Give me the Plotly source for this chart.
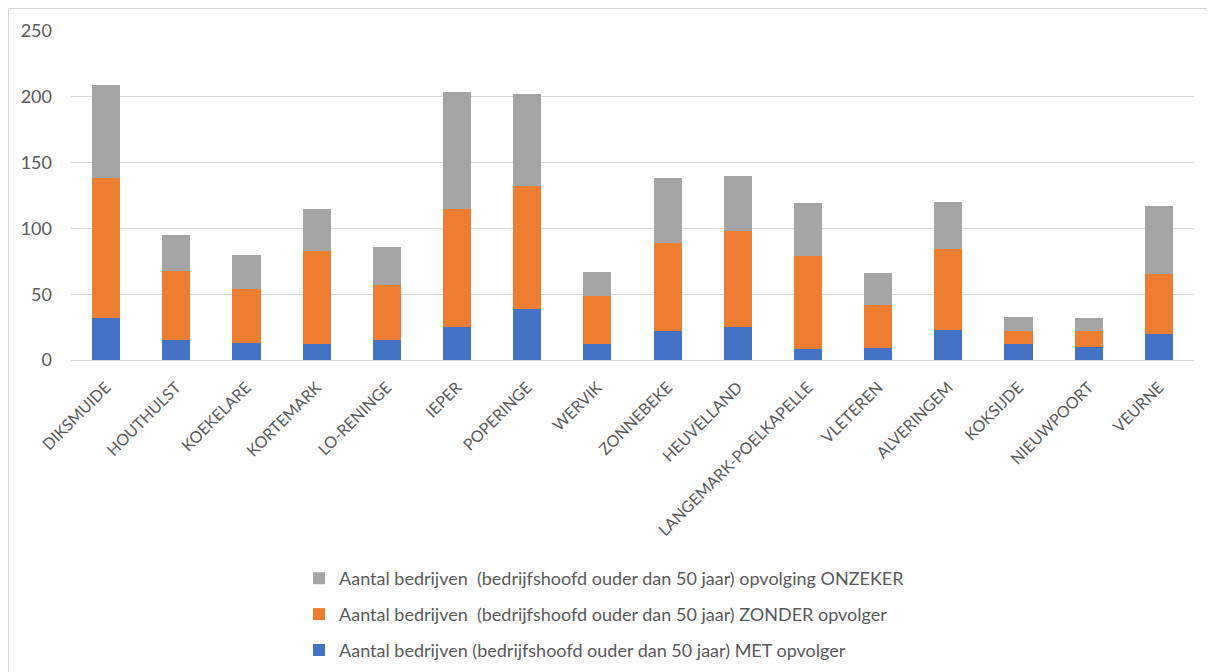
import plotly.graph_objects as go

gemeenten = ["DIKSMUIDE", "HOUTHULST", "KOEKELARE", "KORTEMARK", "LO-RENINGE", "IEPER",
             "POPERINGE", "WERVIK", "ZONNEBEKE", "HEUVELLAND", "LANGEMARK-POELKAPELLE",
             "VLETEREN", "ALVERINGEM", "KOKSIJDE", "NIEUWPOORT", "VEURNE"]
met_opvolger = [32, 15, 13, 12, 15, 25, 39, 12, 22, 25, 8, 9, 23, 12, 10, 20]
zonder_opvolger = [106, 53, 41, 71, 42, 90, 93, 37, 67, 73, 71, 33, 61, 10, 12, 45]
onzeker = [71, 27, 26, 32, 29, 89, 70, 18, 49, 42, 40, 24, 36, 11, 10, 52]

names = [
    "Aantal bedrijven (bedrijfshoofd ouder dan 50 jaar) MET opvolger",
    "Aantal bedrijven \u00a0(bedrijfshoofd ouder dan 50 jaar) ZONDER opvolger",
    "Aantal bedrijven \u00a0(bedrijfshoofd ouder dan 50 jaar) opvolging ONZEKER",
]
colors = ["#4472C4", "#ED7D31", "#A5A5A5"]
ranks = [3, 2, 1]

fig = go.Figure()
for i, (vals, nm, col) in enumerate(zip([met_opvolger, zonder_opvolger, onzeker], names, colors)):
    fig.add_trace(go.Bar(x=gemeenten, y=vals, name=nm, marker_color=col,
                         marker_line_width=0, legendgroup=str(i), legendrank=ranks[i]))

W, H = 1207, 664
L, R, T, B = 63, 21, 23, 312
pw = W - L - R
ph = H - T - B

font_family = "Lato, 'Open Sans', sans-serif"
fig.update_layout(
    barmode="stack",
    bargap=0.6,
    width=W, height=H,
    margin=dict(l=L, r=R, t=T, b=B, autoexpand=False),
    plot_bgcolor="white", paper_bgcolor="white",
    font=dict(family=font_family, color="#595959", size=18),
    xaxis=dict(tickangle=-45, tickfont=dict(size=16, color="#595959"), showline=False,
               ticks="", showgrid=False, ticklabelstandoff=14),
    yaxis=dict(range=[0, 250], dtick=50, showgrid=True, gridcolor="#D9D9D9", gridwidth=1,
               zeroline=True, zerolinecolor="#D9D9D9", zerolinewidth=1,
               tickfont=dict(size=18, color="#595959"), ticks="", ticklabelstandoff=18),
    legend=dict(orientation="v", traceorder="grouped", tracegroupgap=9.5,
                x=(291 - L) / pw, xanchor="left", y=-(552 - (H - B)) / ph, yanchor="top",
                font=dict(size=18, color="#595959"), itemwidth=30),
    showlegend=True,
    shapes=[dict(type="rect", xref="paper", yref="paper",
                 x0=(0.5 - L) / pw, x1=(W + 20 - L) / pw, y0=-(H + 20 - (H - B)) / ph,
                 y1=(H - B - 0.5) / ph,
                 line=dict(color="#D9D9D9", width=1), fillcolor="rgba(0,0,0,0)", layer="below")],
)

fig.write_html("out.html")
